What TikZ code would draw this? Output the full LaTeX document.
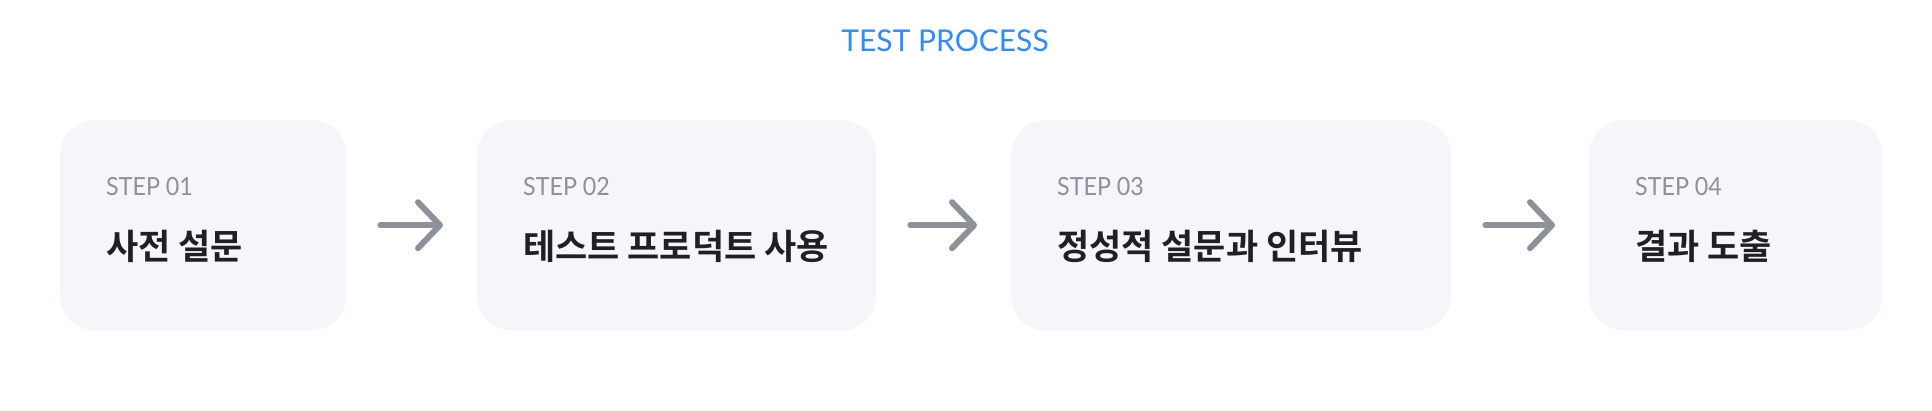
\documentclass[tikz,border=0pt]{standalone}
\usepackage{fontspec}
\setmainfont{Lato}
\newfontfamily\labelfont{Lato}[FakeStretch=0.93]
\newfontfamily\kofont{Noto Sans CJK KR}[BoldFont={Noto Sans CJK KR Bold}]
\usetikzlibrary{arrows.meta, positioning}
\definecolor{boxfill}{HTML}{F5F6FA}
\definecolor{arrowgray}{HTML}{8E9199}
\definecolor{titleblue}{HTML}{2F8BFF}
\definecolor{textdark}{HTML}{1F2023}

\begin{document}
\begin{tikzpicture}[x=1pt, y=-1pt,
    stepbox/.style={fill=boxfill, rounded corners=34pt, minimum height=210pt, inner sep=0pt, anchor=north west},
    steplabel/.style={anchor=base west, text=arrowgray, font=\labelfont\fontsize{25}{29}\selectfont, inner sep=0pt},
    steptitle/.style={anchor=base west, text=textdark, font=\kofont\bfseries\fontsize{35}{40}\selectfont, inner sep=0pt},
    flowarrow/.style={draw=arrowgray, line width=6pt, line cap=round, shorten <=34pt, shorten >=34pt,
      -{Straight Barb[length=22pt, width=46pt, round]}}]
    \useasboundingbox (0,0) rectangle (1932,410);
    \node[text=titleblue, font=\fontsize{30}{34}\selectfont] (title) at (945,41) {TEST PROCESS};
    \foreach \n/\x/\w/\txt in {1/60/286/사전 설문, 2/477/399/테스트 프로덕트 사용, 3/1011/440/정성적 설문과 인터뷰, 4/1589/293/결과 도출} {
      \node[stepbox, minimum width=\w pt] (box\n) at (\x,120) {};
      \node[steplabel] (label\n) at ([xshift=46pt, yshift=-75pt]box\n.north west) {STEP 0\n};
      \node[steptitle] (name\n) at ([xshift=46pt, yshift=-139pt]box\n.north west) {\txt};
    }
    \foreach \a/\b in {1/2, 2/3, 3/4} {
      \draw[flowarrow] (box\a.east) -- (box\b.west);
    }
  \end{tikzpicture}
\end{document}
